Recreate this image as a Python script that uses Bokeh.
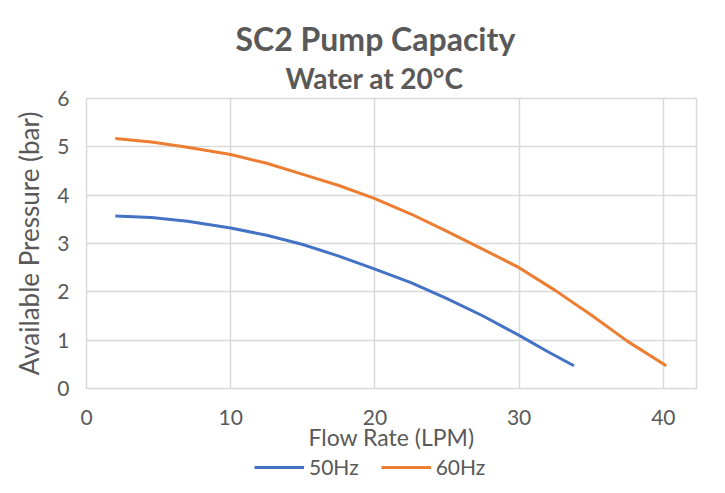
from bokeh.plotting import figure
from bokeh.models import Title, Legend, LegendItem, Range1d, FixedTicker
from bokeh.layouts import column
from bokeh.embed import file_html
from bokeh.resources import INLINE

title_text = "SC2 Pump Capacity"
subtitle_text = "Water at 20°C"
x_label = "Flow Rate (LPM)"
y_label = "Available Pressure (bar)"
series_names = ["50Hz", "60Hz"]

flow_50 = [2, 4.5, 7, 10, 12.5, 15, 17.5, 20, 22.5, 25, 27.5, 30, 32, 33.8]
pres_50 = [3.57, 3.54, 3.46, 3.32, 3.17, 2.98, 2.74, 2.47, 2.19, 1.86, 1.50, 1.10, 0.76, 0.47]

flow_60 = [2, 4.5, 7, 10, 12.5, 15, 17.5, 20, 22.5, 25, 27.5, 30, 32.5, 35, 37.5, 40.2]
pres_60 = [5.17, 5.10, 4.99, 4.84, 4.66, 4.43, 4.20, 3.93, 3.61, 3.25, 2.88, 2.50, 2.03, 1.52, 0.98, 0.47]

x_ticks = [0, 10, 20, 30, 40]
y_ticks = [0, 1, 2, 3, 4, 5, 6]

TEXT = "#595959"
GRID = "#D9D9D9"
C50 = "#4472C4"
C60 = "#ED7D31"
FONT = "Lato"

p = figure(width=725, height=453, output_backend="svg", toolbar_location=None, title=None,
           x_range=Range1d(0, 42.3), y_range=Range1d(0, 6),
           min_border_left=86, min_border_right=29, min_border_top=98, min_border_bottom=64)
p.background_fill_color = "white"
p.border_fill_color = "white"
p.outline_line_color = GRID
p.outline_line_width = 1.5

p.line(flow_50, pres_50, line_color=C50, line_width=3)
p.line(flow_60, pres_60, line_color=C60, line_width=3)

for ax in (p.xaxis[0], p.yaxis[0]):
    ax.axis_line_color = None
    ax.major_tick_line_color = None
    ax.minor_tick_line_color = None
    ax.major_label_text_font = FONT
    ax.major_label_text_font_size = "21px"
    ax.major_label_text_color = TEXT
    ax.axis_label_text_font = FONT
    ax.axis_label_text_font_style = "normal"
    ax.axis_label_text_color = TEXT

p.xaxis[0].axis_label_text_font_size = "23px"
p.yaxis[0].axis_label_text_font_size = "26px"
p.xaxis[0].ticker = FixedTicker(ticks=x_ticks)
p.yaxis[0].ticker = FixedTicker(ticks=y_ticks)
p.xaxis[0].major_label_standoff = 15
p.yaxis[0].major_label_standoff = 11
p.xaxis[0].axis_label = x_label
p.yaxis[0].axis_label = y_label
p.xaxis[0].axis_label_standoff = -5
p.yaxis[0].axis_label_standoff = 9

p.xgrid[0].ticker = FixedTicker(ticks=x_ticks)
p.ygrid[0].ticker = FixedTicker(ticks=y_ticks)
p.xgrid[0].grid_line_color = GRID
p.ygrid[0].grid_line_color = GRID
p.xgrid[0].grid_line_width = 1.5
p.ygrid[0].grid_line_width = 1.5

sub = Title(text=subtitle_text, align="left", offset=199, standoff=8,
            text_font=FONT, text_font_style="bold", text_font_size="28px", text_color=TEXT)
main = Title(text=title_text, align="left", offset=149, standoff=-6,
             text_font=FONT, text_font_style="bold", text_font_size="32px", text_color=TEXT)
p.add_layout(sub, "above")
p.add_layout(main, "above")

# legend strip below the chart (its frame is aligned with the chart's frame by the column)
lg = figure(width=725, height=40, output_backend="svg", toolbar_location=None, title=None,
            x_range=Range1d(0, 42.3), y_range=Range1d(100, 101),
            x_axis_location=None, y_axis_location=None,
            min_border_left=86, min_border_right=29, min_border_top=0, min_border_bottom=0)
lg.outline_line_color = None
lg.grid.visible = False
lg.background_fill_color = "white"
lg.border_fill_color = "white"
r50 = lg.line(flow_50, pres_50, line_color=C50, line_width=3)
r60 = lg.line(flow_60, pres_60, line_color=C60, line_width=3)

legend = Legend(items=[LegendItem(label=series_names[0], renderers=[r50]),
                       LegendItem(label=series_names[1], renderers=[r60])],
                location=(168, 14), orientation="horizontal")
legend.border_line_color = None
legend.background_fill_alpha = 0
legend.padding = 0
legend.margin = 0
legend.spacing = 22
legend.glyph_width = 50
legend.glyph_height = 22
legend.label_height = 22
legend.label_standoff = 5
legend.label_text_font = FONT
legend.label_text_font_size = "21px"
legend.label_text_color = TEXT
lg.add_layout(legend, "center")

layout = column(p, lg, spacing=0)
open("out.html", "w").write(file_html(layout, INLINE))
